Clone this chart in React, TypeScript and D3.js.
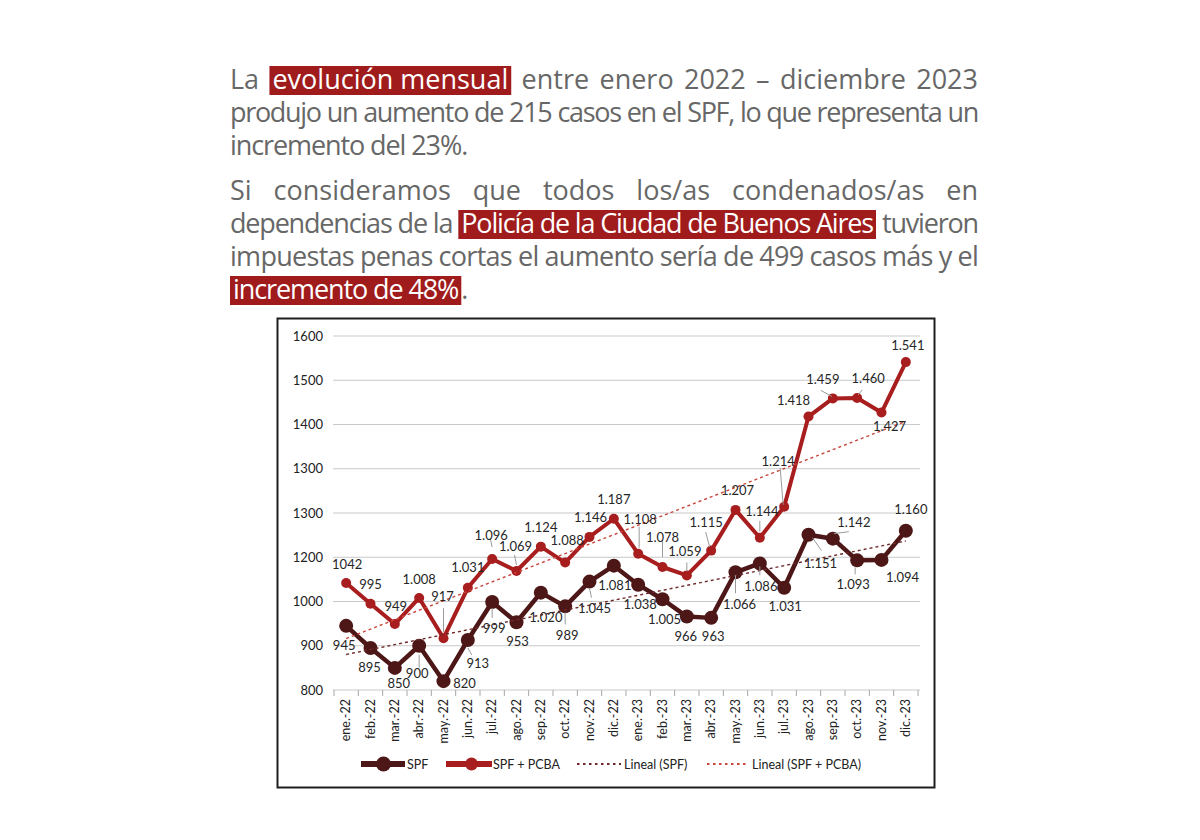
import React from "react";
import * as d3 from "d3";

// ---------- DATA ----------
const months = [
  "ene.-22", "feb.-22", "mar.-22", "abr.-22", "may.-22", "jun.-22", "jul.-22", "ago.-22",
  "sep.-22", "oct.-22", "nov.-22", "dic.-22", "ene.-23", "feb.-23", "mar.-23", "abr.-23",
  "may.-23", "jun.-23", "jul.-23", "ago.-23", "sep.-23", "oct.-23", "nov.-23", "dic.-23",
];
const spf = [945, 895, 850, 900, 820, 913, 999, 953, 1020, 989, 1045, 1081, 1038, 1005, 966, 963, 1066, 1086, 1031, 1151, 1142, 1093, 1094, 1160];
const spfPcba = [1042, 995, 949, 1008, 917, 1031, 1096, 1069, 1124, 1088, 1146, 1187, 1108, 1078, 1059, 1115, 1207, 1144, 1214, 1418, 1459, 1460, 1427, 1541];
const spfText = ["945", "895", "850", "900", "820", "913", "999", "953", "1.020", "989", "1.045", "1.081", "1.038", "1.005", "966", "963", "1.066", "1.086", "1.031", "1.151", "1.142", "1.093", "1.094", "1.160"];
const spfPcbaText = ["1042", "995", "949", "1.008", "917", "1.031", "1.096", "1.069", "1.124", "1.088", "1.146", "1.187", "1.108", "1.078", "1.059", "1.115", "1.207", "1.144", "1.214", "1.418", "1.459", "1.460", "1.427", "1.541"];
const yTickValues = [800, 900, 1000, 1100, 1200, 1300, 1400, 1500, 1600];
const yTickLabels = ["800", "900", "1000", "1200", "1300", "1300", "1400", "1500", "1600"];
const legendLabels = ["SPF", "SPF + PCBA", "Lineal (SPF)", "Lineal (SPF + PCBA)"];

type Seg = { t: string; hl?: boolean; attach?: boolean };
const headerLines: { segs: Seg[]; justify: boolean }[] = [
  { segs: [{ t: "La" }, { t: "evolución mensual", hl: true }, { t: "entre enero 2022 – diciembre 2023" }], justify: true },
  { segs: [{ t: "produjo un aumento de 215 casos en el SPF, lo que representa un" }], justify: true },
  { segs: [{ t: "incremento del 23%." }], justify: false },
  { segs: [{ t: "Si consideramos que todos los/as condenados/as en" }], justify: true },
  { segs: [{ t: "dependencias de la" }, { t: "Policía de la Ciudad de Buenos Aires", hl: true }, { t: "tuvieron" }], justify: true },
  { segs: [{ t: "impuestas penas cortas el aumento sería de 499 casos más y el" }], justify: true },
  { segs: [{ t: "incremento de 48%", hl: true }, { t: ".", attach: true }], justify: false },
];

// ---------- LAYOUT / STYLE ----------
const HEADER_BASELINES = [89, 122, 155, 200, 233, 266, 299];
const HEADER_LEFT = 230;
const HEADER_RIGHT = 978;
const HEADER_SIZE = 27;
const HEADER_FONT = "Open Sans";
const HL_PAD = 3;
const LAST_LINE_LS = -1.1;

const C_SPF = "#4d1717";
const C_PCBA = "#a81d1d";
const C_TR_SPF = "#6e2a2a";
const C_TR_PCBA = "#c8463c";
const C_HL = "#a01b1b";

// label offsets relative to their point: [dx, dy, leader?]
type LP = [number, number, number[]?];
const pcbaLabelPos: LP[] = [
  [1, -19], [0, -19], [1, -18], [0, -19], [-1, -42, [0, -30, 0, -6]], [0, -20],
  [-1, -24, [-2, -21, 0, -12]], [-1, -25, [-2, -16, 0, -6]], [0, -19], [2, -22], [1, -19], [0, -19],
  [2, -34, [1, -27, 1, -6]], [0, -30, [0, -27, 0, -10]], [-2, -24, [0, -13, 0, -4]],
  [-5, -28, [-5.5, -18.6, -1.5, -3.6]], [2, -20], [2, -26, [0, -17, 0, -6]],
  [-6, -45, [-4, -39, -1, -2]], [-15, -16], [-10, -19, [-12, -8, -1, -2]], [11, -20, [5, -8, 1, -3]],
  [8, 14], [2, -17],
];
const spfLabelPos: LP[] = [
  [-2, 20], [-1, 19], [4, 16], [-2, 28, [0, 9, 0, 22]], [21, 2], [10, 23, [0, 8, 4, 15]],
  [2, 26, [0, 6, 0, 16]], [1, 19], [5, 25], [2, 29, [0, 6, 0, 18]], [5, 27, [0, 7, 2, 16]], [1, 20],
  [2, 20], [2, 20], [-1, 20], [2, 19], [4, 32, [0, 3, 0, 21]], [1, 23, [0, 3, 0, 12]],
  [1, 19], [12, 29, [4, 3, 13, 16]], [21, -16, [1, -5, 16, -7]], [-4, 24, [-2, 7, -2, 14]],
  [21, 17], [5, -21],
];
const LEGEND_SERIES_X = [361, 446];
const LEGEND_TREND_X = [577, 707];
const LEGEND_TEXT_X = [407, 493, 624, 752];
const LEGEND_Y = 764;

// ---------- helpers ----------
let ctx: CanvasRenderingContext2D | null = null;
function measure(text: string, size: number, weight = 400, family = HEADER_FONT) {
  if (!ctx) ctx = document.createElement("canvas").getContext("2d");
  if (!ctx) return text.length * size * 0.5;
  ctx.font = `${weight} ${size}px "${family}"`;
  return ctx.measureText(text).width;
}

function regression(vals: number[]) {
  const n = vals.length;
  const mx = (n - 1) / 2;
  const my = d3.mean(vals) as number;
  let sxy = 0, sxx = 0;
  vals.forEach((v, i) => { sxy += (i - mx) * (v - my); sxx += (i - mx) * (i - mx); });
  const b = sxy / sxx;
  return (i: number) => my + b * (i - mx);
}

type Unit = { text: string; hl: boolean; attach: boolean; w: number; x: number };
function layoutLine(segs: Seg[], justify: boolean) {
  const units: Unit[] = [];
  segs.forEach((s) => {
    if (s.hl) units.push({ text: s.t, hl: true, attach: !!s.attach, w: 0, x: 0 });
    else s.t.split(" ").forEach((word, k) => units.push({ text: word, hl: false, attach: !!s.attach && k === 0, w: 0, x: 0 }));
  });
  const W = HEADER_RIGHT - HEADER_LEFT;
  const nat = units.map((u) => measure(u.text, HEADER_SIZE) + (u.hl ? 2 * HL_PAD : 0));
  const chars = units.reduce((a, u) => a + u.text.length, 0);
  const gaps = units.filter((u, i) => i > 0 && !u.attach).length;
  const S = d3.sum(nat);
  let ls = LAST_LINE_LS;
  let gap = 6;
  if (justify) {
    const minGap = 6;
    ls = 0;
    if (S + gaps * minGap <= W) gap = (W - S) / gaps;
    else { gap = minGap; ls = (W - gaps * minGap - S) / chars; }
  }
  let xx = HEADER_LEFT;
  units.forEach((u, i) => {
    if (i > 0 && !u.attach) xx += gap;
    u.x = xx;
    u.w = nat[i] + ls * u.text.length;
    xx += u.w;
  });
  return { units, ls };
}

export default function App() {
  const x = d3.scaleBand<string>().domain(months).range([334, 918]);
  const bw = x.bandwidth();
  const cx = (i: number) => (x(months[i]) as number) + bw / 2;
  const y = d3.scaleLinear().domain([800, 1600]).range([690, 336]);
  const line = d3.line<number>().x((_, i) => cx(i)).y((d) => y(d));
  const trSpf = regression(spf);
  const trPcba = regression(spfPcba);
  const trendPath = (f: (i: number) => number) => line(months.map((_, i) => f(i))) as string;
  const boundaries = months.map((m) => x(m) as number).concat([x.range()[1]]);

  const labelFont = { fontFamily: "Lato, 'Open Sans', sans-serif", fontSize: 13, fill: "#262626" };

  const renderLabels = (vals: number[], texts: string[], pos: LP[], key: string) =>
    vals.map((v, i) => {
      const px = cx(i), py = y(v);
      const [dx, dy, lead] = pos[i];
      return (
        <g key={key + i}>
          {lead && (
            <line x1={px + lead[0]} y1={py + lead[1]} x2={px + lead[2]} y2={py + lead[3]} stroke="#9a9a9a" strokeWidth={1} />
          )}
          <text x={px + dx} y={py + dy + 4.6} textAnchor="middle" {...labelFont}>{texts[i]}</text>
        </g>
      );
    });

  return (
    <svg width={1200} height={840} style={{ position: "absolute", left: 0, top: 0, background: "#fff" }}>
      <rect x={0} y={0} width={1200} height={840} fill="#fff" />
      {/* header */}
      {headerLines.map((ln, li) => {
        const { units, ls } = layoutLine(ln.segs, ln.justify);
        const base = HEADER_BASELINES[li];
        return (
          <g key={"h" + li}>
            {units.map((u, ui) =>
              u.hl ? (
                <g key={ui}>
                  <rect x={u.x} y={base - 23} width={u.w} height={29} fill={C_HL} />
                  <text x={u.x + HL_PAD} y={base} fontFamily={HEADER_FONT} fontSize={HEADER_SIZE} fill="#fff" letterSpacing={ls}>{u.text}</text>
                </g>
              ) : (
                <text key={ui} x={u.x} y={base} fontFamily={HEADER_FONT} fontSize={HEADER_SIZE} fill="#676767" letterSpacing={ls}>{u.text}</text>
              )
            )}
          </g>
        );
      })}

      {/* chart frame */}
      <rect x={277.5} y={318.5} width={657} height={469} fill="#fff" stroke="#1e1e1e" strokeWidth={2} />

      {/* gridlines and y labels */}
      {yTickValues.map((v, i) => (
        <g key={"y" + i}>
          <line x1={333} x2={920} y1={y(v)} y2={y(v)} stroke="#c9c9c9" strokeWidth={1} />
          <text x={323} y={y(v) + 4.6} textAnchor="end" fontFamily="Lato, sans-serif" fontSize={13} fill="#222">{yTickLabels[i]}</text>
        </g>
      ))}
      {boundaries.map((b, i) => (
        <line key={"t" + i} x1={b} x2={b} y1={690} y2={696} stroke="#a8a8a8" strokeWidth={1} />
      ))}
      {months.map((m, i) => (
        <text key={"x" + i} transform={`translate(${cx(i) + 4.3},${699}) rotate(-90)`} textAnchor="end" fontFamily="Lato, sans-serif" fontSize={12.5} fill="#222">{m}</text>
      ))}

      {/* series */}
      <path d={line(spfPcba) as string} fill="none" stroke={C_PCBA} strokeWidth={4} strokeLinejoin="round" />
      {spfPcba.map((v, i) => <circle key={"pc" + i} cx={cx(i)} cy={y(v)} r={5} fill={C_PCBA} />)}
      <path d={line(spf) as string} fill="none" stroke={C_SPF} strokeWidth={4.5} strokeLinejoin="round" />
      {spf.map((v, i) => <circle key={"sc" + i} cx={cx(i)} cy={y(v)} r={7} fill={C_SPF} />)}

      {/* trend lines */}
      <path d={trendPath(trSpf)} fill="none" stroke={C_TR_SPF} strokeWidth={1.4} strokeDasharray="3 3" />
      <path d={trendPath(trPcba)} fill="none" stroke={C_TR_PCBA} strokeWidth={1.4} strokeDasharray="3 3" />

      {/* labels */}
      {renderLabels(spfPcba, spfPcbaText, pcbaLabelPos, "lp")}
      {renderLabels(spf, spfText, spfLabelPos, "ls")}

      {/* legend */}
      <g fontFamily="Lato, sans-serif" fontSize={12.5} fill="#222">
        <line x1={LEGEND_SERIES_X[0]} x2={LEGEND_SERIES_X[0] + 44} y1={LEGEND_Y} y2={LEGEND_Y} stroke={C_SPF} strokeWidth={6} />
        <circle cx={LEGEND_SERIES_X[0] + 22.5} cy={LEGEND_Y} r={7.5} fill={C_SPF} />
        <text x={LEGEND_TEXT_X[0]} y={LEGEND_Y + 4.5}>{legendLabels[0]}</text>
        <line x1={LEGEND_SERIES_X[1]} x2={LEGEND_SERIES_X[1] + 46} y1={LEGEND_Y} y2={LEGEND_Y} stroke={C_PCBA} strokeWidth={6} />
        <circle cx={LEGEND_SERIES_X[1] + 25.5} cy={LEGEND_Y} r={6.5} fill={C_PCBA} />
        <text x={LEGEND_TEXT_X[1]} y={LEGEND_Y + 4.5}>{legendLabels[1]}</text>
        <line x1={LEGEND_TREND_X[0]} x2={LEGEND_TREND_X[0] + 44} y1={LEGEND_Y} y2={LEGEND_Y} stroke={C_TR_SPF} strokeWidth={1.8} strokeDasharray="2.5 3.5" />
        <text x={LEGEND_TEXT_X[2]} y={LEGEND_Y + 4.5}>{legendLabels[2]}</text>
        <line x1={LEGEND_TREND_X[1]} x2={LEGEND_TREND_X[1] + 40} y1={LEGEND_Y} y2={LEGEND_Y} stroke={C_TR_PCBA} strokeWidth={1.8} strokeDasharray="2.5 3.5" />
        <text x={LEGEND_TEXT_X[3]} y={LEGEND_Y + 4.5}>{legendLabels[3]}</text>
      </g>
    </svg>
  );
}
